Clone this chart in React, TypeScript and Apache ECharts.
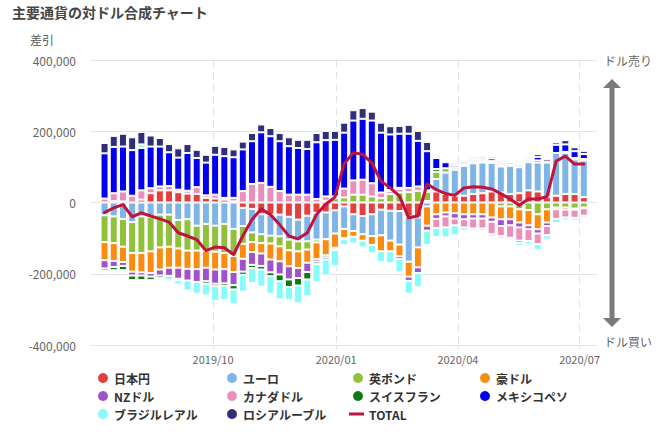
import React, { useEffect, useRef } from 'react';
import * as echarts from 'echarts';

// weekly report dates
const dates = [
  '2019-07-09', '2019-07-16', '2019-07-23', '2019-07-30', '2019-08-06', '2019-08-13', '2019-08-20', '2019-08-27',
  '2019-09-03', '2019-09-10', '2019-09-17', '2019-09-24', '2019-10-01', '2019-10-08', '2019-10-15', '2019-10-22',
  '2019-10-29', '2019-11-05', '2019-11-12', '2019-11-19', '2019-11-26', '2019-12-03', '2019-12-10', '2019-12-17',
  '2019-12-24', '2019-12-31', '2020-01-07', '2020-01-14', '2020-01-21', '2020-01-28', '2020-02-04', '2020-02-11',
  '2020-02-18', '2020-02-25', '2020-03-03', '2020-03-10', '2020-03-17', '2020-03-24', '2020-03-31', '2020-04-07',
  '2020-04-14', '2020-04-21', '2020-04-28', '2020-05-05', '2020-05-12', '2020-05-19', '2020-05-26', '2020-06-02',
  '2020-06-09', '2020-06-16', '2020-06-23', '2020-06-30', '2020-07-07',
];

const monthTicks = ['2019-10-01', '2020-01-01', '2020-04-01', '2020-07-01'];
const axisStart = '2019-07-01';
const axisEnd = '2020-07-14';

// values in thousands of contracts
const jpy = [0, 4, 3, 0, 8, 26, 34, 34, 29, 25, 24, 13, 11, 8, 3, -15, -18, -33, -34, -34, -40, -48, -37, -29, -28, -22,
  -11, -33, -38, -33, -20, -23, -24, -40, -42, 4, 31, 24, 19, 19, 24, 26, 31, 28, 24, 26, 34, 31, 15, 19, 24, 24, 15];
const eur = [-36, -39, -46, -55, -39, -41, -34, -34, -49, -47, -65, -60, -65, -60, -74, -51, -66, -56, -59, -61, -64, -61,
  -72, -75, -75, -65, -63, -47, -51, -61, -72, -84, -94, -126, -84, -11, 35, 60, 73, 84, 86, 86, 80, 73, 79, 73, 79, 81,
  97, 120, 115, 97, 103];
const gbp = [-75, -75, -78, -87, -103, -96, -92, -90, -80, -88, -70, -75, -73, -82, -76, -50, -27, -25, -22, -28, -30,
  -28, -23, -8, 5, 12, 14, 22, 22, 17, 12, 24, 28, 29, 33, 26, 20, 12, 3, 3, 3, 3, 3, -11, -11, -19, -21, -33, -19, -14,
  -14, -17, -14];
const aud = [-51, -50, -43, -52, -54, -61, -62, -59, -54, -51, -52, -48, -50, -45, -45, -42, -28, -29, -45, -42, -45,
  -47, -37, -47, -45, -40, -26, -16, -18, -25, -45, -30, -33, -42, -56, -54, -33, -28, -30, -33, -33, -33, -42, -36,
  -36, -37, -43, -42, -37, -5, -6, -3, -2];
const nzd = [-23, -17, -11, -11, -9, -10, -17, -23, -31, -33, -36, -38, -40, -40, -37, -36, -36, -35, -36, -37, -37,
  -28, -26, -7, -6, -2, 0, 0, 0, 0, 0, 0, -8, -12, -16, -14, -13, -11, -15, -14, -12, -12, -12, -19, -17, -14, -11, -12,
  -10, 0, 0, 0, 0];
const cad = [11, 22, 28, 19, 26, 14, 11, 12, 7, 8, 19, 7, 11, 5, 10, 32, 52, 55, 44, 32, 22, 22, 22, 10, 12, 5, 25, 40,
  42, 37, 16, 8, 10, 12, 12, 4, -26, -31, -19, -23, -28, -28, -35, -28, -35, -37, -33, -30, -26, -27, -22, -23, -21];
const chf = [-6, -9, -12, -13, -13, -10, -7, 0, -4, 0, 0, -7, -7, -7, -12, -9, -9, -10, -11, -19, -21, -21, -21, -7, -6,
  -4, -3, 0, 0, 0, 0, 3, 3, 0, 0, 0, 8, 0, 4, 4, 4, 4, 3, 4, 4, 4, 4, 6, 2, 0, 3, 4, 4];
const mxn = [127, 130, 126, 128, 119, 117, 112, 95, 90, 106, 82, 92, 112, 117, 114, 117, 120, 142, 142, 140, 136, 131,
  128, 159, 158, 159, 157, 168, 171, 176, 168, 156, 152, 152, 128, 110, 31, 17, 6, 5, 5, 5, 7, 6, -3, -6, 5, 10, 0, 23,
  21, 19, 14];
const brl = [0, 0, 0, 0, 10, 0, -3, -11, -12, -28, -33, -33, -41, -40, -41, -47, -42, -48, -49, -51, -37, -50, -47, -50,
  -45, -45, -16, -19, -19, -23, -30, -33, -36, -36, -40, -40, -25, -28, -28, -9, -7, -7, -7, -7, -5, -9, -9, -16, -12,
  -12, -8, -8, -7];
const rub = [29, 31, 36, 36, 35, 31, 24, 23, 26, 25, 23, 22, 25, 26, 22, 22, 23, 22, 23, 23, 25, 23, 26, 26, 26, 25, 28,
  29, 30, 25, 28, 23, 22, 25, 28, 26, 5, 4, 5, 4, 5, 5, 5, 5, 5, 5, 5, 8, 7, 7, 12, 11, 9];
const total = [-28, -15, -6, -40, -29, -38, -46, -55, -85, -94, -104, -135, -125, -127, -146, -94, -48, -18, -34, -62,
  -94, -102, -85, -34, -5, 15, 109, 140, 135, 111, 60, 41, 18, -43, -38, 52, 36, 25, 20, 41, 44, 43, 38, 25, 10, -8, 10,
  10, 16, 116, 130, 108, 108];

const yTicks = { min: -400000, max: 400000, step: 200000 };

const barSeries = [
  { name: '日本円', color: '#e2403f', values: jpy },
  { name: 'ユーロ', color: '#7fb4e6', values: eur },
  { name: '英ポンド', color: '#8fc13b', values: gbp },
  { name: '豪ドル', color: '#f98b10', values: aud },
  { name: 'NZドル', color: '#a052c9', values: nzd },
  { name: 'カナダドル', color: '#ea8ebb', values: cad },
  { name: 'スイスフラン', color: '#0b7a12', values: chf },
  { name: 'メキシコペソ', color: '#0000ec', values: mxn },
  { name: 'ブラジルレアル', color: '#85fbfb', values: brl },
  { name: 'ロシアルーブル', color: '#302e78', values: rub },
];
const totalColor = '#c0133d';

const FONT = '"Noto Sans CJK JP", "Noto Sans", sans-serif';

function toTime(s: string): number {
  const [y, m, d] = s.split('-').map(Number);
  return Date.UTC(y, m - 1, d);
}

export default function App() {
  const ref = useRef<HTMLDivElement>(null);
  useEffect(() => {
    document.body.style.margin = '0';
    const chart = echarts.init(ref.current!, null, { renderer: 'svg' });
    const times = dates.map(toTime);
    const tickTimes = monthTicks.map(toTime);
    const pad = (n: number) => (n < 10 ? '0' + n : '' + n);

    const legendBase = {
      orient: 'vertical' as const,
      itemWidth: 12,
      itemHeight: 12,
      itemGap: 4,
      selectedMode: false,
      icon: 'circle',
      textStyle: { fontFamily: FONT, fontSize: 12, fontWeight: 'bold' as const, color: '#333', lineHeight: 14 },
    };

    const series: any[] = barSeries.map((s) => ({
      name: s.name,
      type: 'bar',
      stack: 'all',
      barWidth: 8,
      silent: true,
      xAxisIndex: 0,
      itemStyle: { color: s.color, borderColor: '#ffffff', borderWidth: 1 },
      data: s.values.map((v, i) => [times[i], v === 0 ? '-' : v * 1000]),
    }));
    series.push({
      name: 'TOTAL',
      type: 'line',
      symbol: 'none',
      silent: true,
      xAxisIndex: 0,
      z: 10,
      lineStyle: { color: totalColor, width: 3, join: 'round', cap: 'round' },
      itemStyle: { color: totalColor },
      data: total.map((v, i) => [times[i], v * 1000]),
    });

    chart.setOption({
      animation: false,
      textStyle: { fontFamily: FONT },
      grid: { left: 90, right: 65, top: 60, bottom: 92 },
      xAxis: [
        {
          type: 'time',
          min: toTime(axisStart),
          max: toTime(axisEnd),
          axisLine: { show: false },
          axisTick: { show: false },
          axisLabel: { show: false },
          splitLine: { show: false },
        },
        {
          type: 'value',
          position: 'bottom',
          min: toTime(axisStart),
          max: toTime(axisEnd),
          axisLine: { show: false },
          axisTick: {
            show: true, length: 6, customValues: tickTimes,
            lineStyle: { color: '#dde1e8', type: [4, 3] },
          },
          axisLabel: {
            customValues: tickTimes,
            color: '#666',
            fontSize: 11,
            margin: 8,
            formatter: (v: number) => {
              const d = new Date(v);
              return d.getUTCFullYear() + '/' + pad(d.getUTCMonth() + 1);
            },
          },
          splitLine: { show: true, lineStyle: { color: '#dde1e8', type: [7, 5], width: 1 } },
        },
      ],
      yAxis: {
        type: 'value',
        min: yTicks.min,
        max: yTicks.max,
        interval: yTicks.step,
        axisLine: { show: false },
        axisTick: { show: false },
        axisLabel: {
          color: '#666',
          fontSize: 12,
          margin: 14,
          formatter: (v: number) => v.toLocaleString('en-US'),
        },
        splitLine: { lineStyle: { color: '#e0e4ea', width: 1 } },
      },
      legend: [
        { ...legendBase, left: 91, top: 366, data: ['日本円', 'NZドル', 'ブラジルレアル'] },
        { ...legendBase, left: 220, top: 366, data: ['ユーロ', 'カナダドル', 'ロシアルーブル'] },
        { ...legendBase, left: 346, top: 366, data: ['英ポンド', 'スイスフラン'] },
        { ...legendBase, left: 473, top: 366, data: ['豪ドル', 'メキシコペソ'] },
        { ...legendBase, left: 344, top: 402, itemWidth: 15, itemHeight: 3, icon: 'rect', data: ['TOTAL'] },
      ],
      graphic: [
        {
          type: 'text', left: 12, top: 5,
          style: { text: '主要通貨の対ドル合成チャート', font: `bold 14px ${FONT}`, fill: '#454545' },
        },
        {
          type: 'text', left: 30, top: 33,
          style: { text: '差引', font: `12px ${FONT}`, fill: '#555' },
        },
        {
          type: 'text', left: 604, top: 54,
          style: { text: 'ドル売り', font: `12px ${FONT}`, fill: '#666' },
        },
        {
          type: 'text', left: 604, top: 335,
          style: { text: 'ドル買い', font: `12px ${FONT}`, fill: '#666' },
        },
        {
          type: 'line',
          shape: { x1: 612, y1: 86, x2: 612, y2: 320 },
          style: { stroke: '#7a7a7a', lineWidth: 5 },
        },
        {
          type: 'polygon',
          shape: { points: [[603, 88], [612, 79], [621, 88]] },
          style: { fill: '#7a7a7a' },
        },
        {
          type: 'polygon',
          shape: { points: [[603, 318], [612, 327], [621, 318]] },
          style: { fill: '#7a7a7a' },
        },
      ],
      series,
    });
    return () => chart.dispose();
  }, []);
  return <div ref={ref} style={{ width: 662, height: 437 }} />;
}
